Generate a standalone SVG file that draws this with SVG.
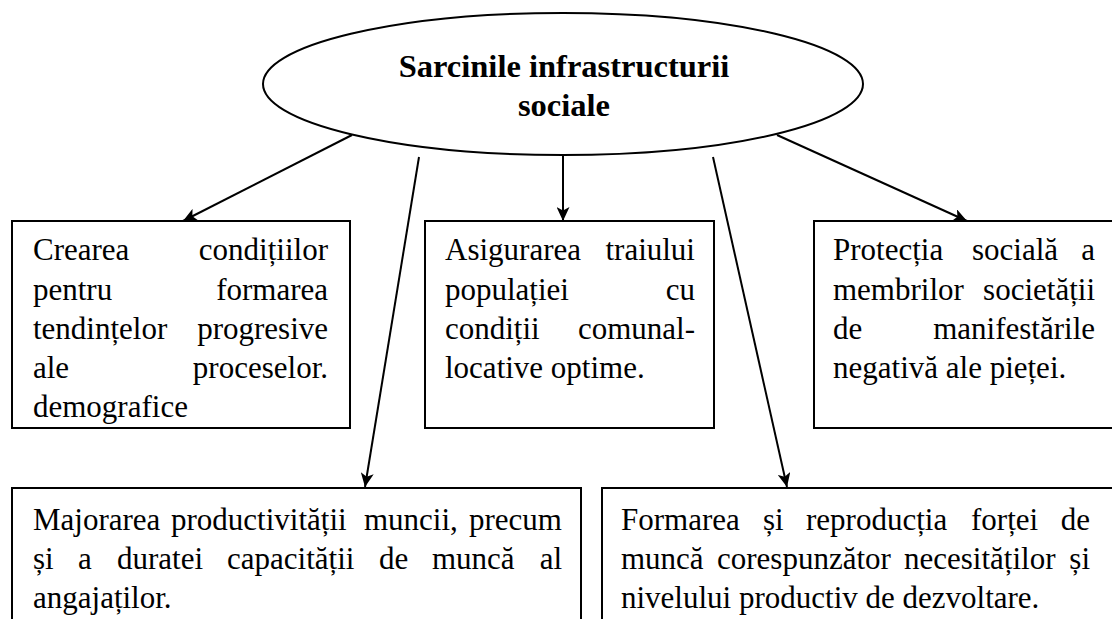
<svg xmlns="http://www.w3.org/2000/svg" width="1112" height="619" viewBox="0 0 1112 619">
<defs>
<style>
.box{fill:#fff;stroke:#000;stroke-width:2}
.ell{fill:#fff;stroke:#000;stroke-width:2}
.con{stroke:#000;stroke-width:2;fill:none}
.t{font-family:"Liberation Serif","Times New Roman",serif;font-size:31px;fill:#000}
.h{font-family:"Liberation Serif","Times New Roman",serif;font-size:32.5px;font-weight:bold;fill:#000;text-anchor:middle}
.e{text-anchor:end}
</style>
<marker id="ah" markerWidth="15" markerHeight="13" refX="14" refY="6.5" orient="auto" markerUnits="userSpaceOnUse">
<path d="M0,0 L14,6.5 L0,13 L3.5,6.5 Z" fill="#000"/>
</marker>
</defs>
<rect width="1112" height="619" fill="#fff"/>

<g id="connectors">
<line class="con" x1="352" y1="135" x2="183" y2="221" marker-end="url(#ah)"/>
<line class="con" x1="563" y1="156" x2="563" y2="221" marker-end="url(#ah)"/>
<line class="con" x1="777" y1="135" x2="967" y2="221" marker-end="url(#ah)"/>
<line class="con" x1="419" y1="157" x2="365" y2="487" marker-end="url(#ah)"/>
<line class="con" x1="713" y1="157" x2="787" y2="487" marker-end="url(#ah)"/>
</g>

<g id="center">
<ellipse class="ell" cx="563" cy="84" rx="300" ry="71"/>
<text class="h" x="564" y="77">Sarcinile infrastructurii</text>
<text class="h" x="564" y="116">sociale</text>
</g>

<g id="box1">
<rect class="box" x="12" y="221" width="338" height="207"/>
<text class="t" x="33" y="260">Crearea</text><text class="t e" x="328" y="260">condițiilor</text>
<text class="t" x="33" y="300">pentru</text><text class="t e" x="328" y="300">formarea</text>
<text class="t" x="33" y="339">tendințelor</text><text class="t e" x="328" y="339">progresive</text>
<text class="t" x="33" y="378">ale</text><text class="t e" x="328" y="378">proceselor.</text>
<text class="t" x="33" y="417">demografice</text>
</g>

<g id="box2">
<rect class="box" x="425" y="221" width="289" height="207"/>
<text class="t" x="445" y="260">Asigurarea</text><text class="t e" x="695" y="260">traiului</text>
<text class="t" x="445" y="300">populației</text><text class="t e" x="695" y="300">cu</text>
<text class="t" x="445" y="339">condiții</text><text class="t e" x="695" y="339">comunal-</text>
<text class="t" x="445" y="378">locative optime.</text>
</g>

<g id="box3">
<rect class="box" x="814" y="221" width="310" height="207"/>
<text class="t" x="833" y="260">Protecția</text><text class="t" x="972" y="260">socială</text><text class="t e" x="1095" y="260">a</text>
<text class="t" x="833" y="300">membrilor</text><text class="t e" x="1095" y="300">societății</text>
<text class="t" x="833" y="339">de</text><text class="t e" x="1095" y="339">manifestările</text>
<text class="t" x="833" y="378">negativă ale pieței.</text>
</g>

<g id="box4">
<rect class="box" x="12" y="488" width="569" height="150"/>
<text class="t" x="33" y="530">Majorarea</text><text class="t" x="171" y="530">productivității</text><text class="t" x="364" y="530">muncii,</text><text class="t e" x="562" y="530">precum</text>
<text class="t" x="33" y="569">și</text><text class="t" x="78" y="569">a</text><text class="t" x="117" y="569">duratei</text><text class="t" x="227" y="569">capacității</text><text class="t" x="379" y="569">de</text><text class="t" x="432" y="569">muncă</text><text class="t e" x="562" y="569">al</text>
<text class="t" x="33" y="608">angajaților.</text>
</g>

<g id="box5">
<rect class="box" x="602" y="488" width="520" height="150"/>
<text class="t" x="621" y="530">Formarea</text><text class="t" x="763" y="530">și</text><text class="t" x="806" y="530">reproducția</text><text class="t" x="971" y="530">forței</text><text class="t e" x="1090" y="530">de</text>
<text class="t" x="621" y="569">muncă</text><text class="t" x="717" y="569">corespunzător</text><text class="t" x="904" y="569">necesităților</text><text class="t e" x="1090" y="569">și</text>
<text class="t" x="621" y="608">nivelului productiv de dezvoltare.</text>
</g>
</svg>
